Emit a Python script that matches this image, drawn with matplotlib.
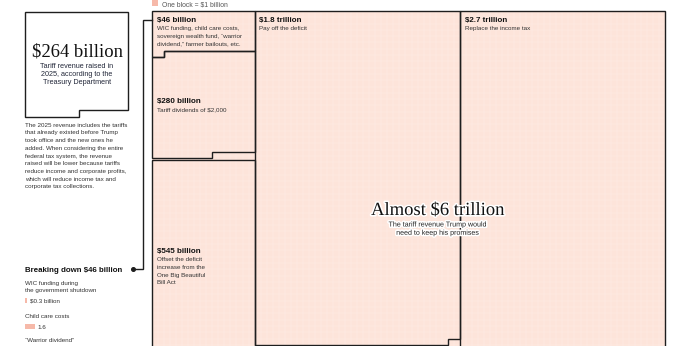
import numpy as np
import matplotlib
matplotlib.use("Agg")
import matplotlib.pyplot as plt
from matplotlib.patches import Polygon, Rectangle
import matplotlib.patheffects as pe

# ---- data (billions of dollars, one block = $1 billion) ----
revenue_2025 = 264
section_values = [46, 280, 545, 1800, 2700]
section_titles = ["$46 billion", "$280 billion", "$545 billion", "$1.8 trillion", "$2.7 trillion"]
section_notes = [
    ["WIC funding, child care costs,", "sovereign wealth fund, \u201cwarrior",
     "dividend,\u201d farmer bailouts, etc."],
    ["Tariff dividends of $2,000"],
    ["Offset the deficit", "increase from the", "One Big Beautiful", "Bill Act"],
    ["Pay off the deficit"],
    ["Replace the income tax"],
]
breakdown_labels = [["WIC funding during", "the government shutdown"],
                    ["Child care costs"],
                    ["\u201cWarrior dividend\u201d"]]
breakdown_values = [0.3, 1.6]
breakdown_value_text = ["$0.3 billion", "1.6"]
intro_lines = [
    "The 2025 revenue includes the tariffs",
    "that already existed before Trump",
    "took office and the new ones he",
    "added. When considering the entire",
    "federal tax system, the revenue",
    "raised will be lower because tariffs",
    "reduce income and corporate profits,",
    "which will reduce income tax and",
    "corporate tax collections.",
]

# ---- layout / style ----
W_PX, H_PX = 690, 346
GRID_LEFT, GRID_TOP = 152, 11
BX = 513 / 85          # px per block horizontally
RY = 6.3               # px per block row
col_widths = [17, 34, 34]
COL1_SHIFT = 0.35      # row offset of the first column
PAD_46 = 58            # extra blocks to make room for the $46B label
GAP_545 = 0.25
FILL = "#fde4da"
SWATCH = "#f6b9a9"
LINE = "#1e1e1e"
SANS = ["Liberation Sans", "DejaVu Sans"]
SERIF = ["Liberation Serif", "DejaVu Serif"]
BODY = 4.5


def bx(px):
    return (px - GRID_LEFT) / BX


def by(py):
    return (py - GRID_TOP) / RY


def ftext(x, y, s, **kw):
    kw.setdefault("family", SANS)
    kw.setdefault("va", "baseline")
    return fig.text(x / W_PX, 1 - y / H_PX, s, **kw)


def waffle_outline(start, stop, width):
    r0, c0 = divmod(start, width)
    r1, c1 = divmod(stop, width)
    if c1 == 0:
        r1, c1 = r1 - 1, width
    if r0 == r1:
        return [(c0, r0), (c1, r0), (c1, r0 + 1), (c0, r0 + 1)]
    return [(c0, r0), (width, r0), (width, r1), (c1, r1), (c1, r1 + 1),
            (0, r1 + 1), (0, r0 + 1), (c0, r0 + 1)]


def draw_outline(pts, x0, y0, top=None, yscale=1.0):
    pts = [(x0 + x, y0 + y * yscale) for x, y in pts]
    if top is not None:
        ymin = min(y for _, y in pts)
        pts = [(x, top if y == ymin else y) for x, y in pts]
    ax.add_patch(Polygon(pts, closed=True, fill=False, ec=LINE, lw=1.0,
                         joinstyle="miter", clip_on=False, zorder=3))


fig = plt.figure(figsize=(W_PX / 100, H_PX / 100), dpi=100)
ax = fig.add_axes([0, 0, 1, 1])
ax.set_xlim(bx(0), bx(W_PX))
ax.set_ylim(by(H_PX), by(0))
ax.axis("off")

# block grid
ncols = sum(col_widths)
nrows = int(np.ceil(by(H_PX))) + 1
ax.add_patch(Rectangle((0, 0), ncols, nrows, fc=FILL, ec="none", zorder=1))
ax.vlines(np.arange(1, ncols), 0, nrows, colors="white", lw=0.35, alpha=0.4, zorder=2)
ax.hlines(np.arange(1, nrows), 0, ncols, colors="white", lw=0.35, alpha=0.3, zorder=2)

# first column: $46B, $280B, $545B
s46 = PAD_46 + section_values[0]
draw_outline(waffle_outline(0, s46, col_widths[0]), 0, COL1_SHIFT, top=0)
s280 = s46 + section_values[1]
draw_outline(waffle_outline(s46, s280, col_widths[0]), 0, COL1_SHIFT)
s545_start = int(np.ceil(s280 / col_widths[0])) * col_widths[0]
draw_outline(waffle_outline(s545_start, s545_start + section_values[2], col_widths[0]),
             0, COL1_SHIFT + GAP_545)
# second and third columns
draw_outline(waffle_outline(0, section_values[3], col_widths[1]), col_widths[0], 0)
draw_outline(waffle_outline(0, section_values[4], col_widths[2]),
             col_widths[0] + col_widths[1], 0)

# $264B revenue box on the left
draw_outline(waffle_outline(0, revenue_2025, col_widths[0]), bx(25), by(11.7), yscale=1.04)

# connector from $46B box to breakdown
ax.plot([0, bx(142.8), bx(142.8), bx(133)], [by(20), by(20), by(269), by(269)],
        color=LINE, lw=1.0, clip_on=False, zorder=3, solid_joinstyle="miter")
ax.plot([bx(133)], [by(269)], "o", color=LINE, ms=2.6, clip_on=False, zorder=3)

# legend swatch
ax.add_patch(Rectangle((0, by(0)), 1, by(6.5) - by(0), fc=SWATCH, ec="none", clip_on=False))
ftext(162, 6.3, "One block = $1 billion", size=4.9, color="#555555")

# section labels
title_pos = [(157, 22.3), (157, 103.3), (157, 253.3), (259, 22.3), (465, 22.3)]
for (x, y), title, notes in zip(title_pos, section_titles, section_notes):
    ftext(x, y, title, size=5.8, weight="bold", color="#111111", zorder=5)
    for i, line in enumerate(notes):
        ftext(x, y + 8 + i * 7.6, line, size=BODY, color="#333333", zorder=5)

# big total
halo = [pe.withStroke(linewidth=2.2, foreground="white")]
ftext(438, 215, "Almost $6 trillion", family=SERIF, size=13.4, ha="center",
      color="#111111", path_effects=halo, zorder=6)
for i, line in enumerate(["The tariff revenue Trump would", "need to keep his promises"]):
    ftext(438, 226.5 + i * 8.3, line, size=5.1, ha="center", color="#222222",
          path_effects=halo, zorder=6)

# revenue box text
ftext(77, 56.5, "$264 billion", family=SERIF, size=13.4, ha="center", color="#111111")
for i, line in enumerate(["Tariff revenue raised in", "2025, according to the",
                          "Treasury Department"]):
    ftext(77, 67.5 + i * 8.4, line, size=5.2, ha="center", color="#23283a")

for i, line in enumerate(intro_lines):
    ftext(25, 126.8 + i * 7.7, line, size=BODY, color="#333333")

# breakdown
ftext(25, 271.7, "Breaking down $46 billion", size=5.7, weight="bold", color="#111111")
label_y = [284.5, 318, 342]
for i, lines in enumerate(breakdown_labels):
    for j, line in enumerate(lines):
        ftext(25, label_y[i] + j * 7.6, line, size=BODY, color="#333333")
    if i < len(breakdown_values):
        y_sw = label_y[i] + len(lines) * 7.6 + 3.5
        ax.add_patch(Rectangle((bx(25), by(y_sw - 5)), breakdown_values[i],
                               by(y_sw) - by(y_sw - 5), fc=SWATCH, ec="none",
                               clip_on=False))
        ftext(25 + breakdown_values[i] * BX + 3, y_sw - 0.3, breakdown_value_text[i],
              size=BODY, color="#333333")

fig.savefig("out.png", dpi=100)
